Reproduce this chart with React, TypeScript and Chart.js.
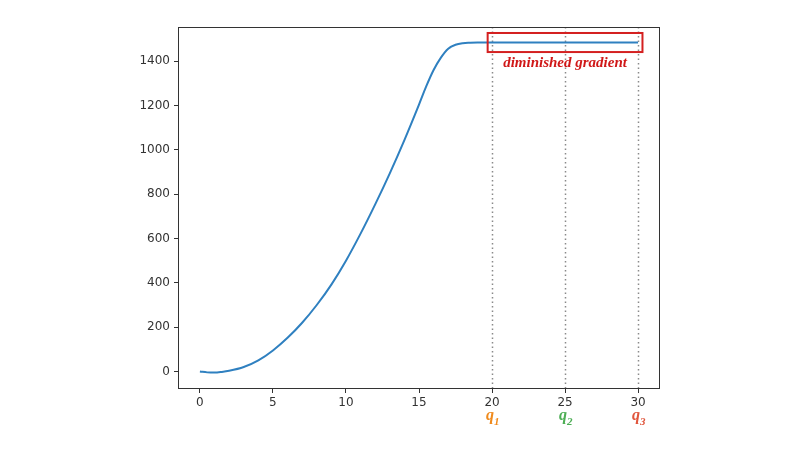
import React, { useEffect, useRef } from "react";
import { Chart, registerables } from "chart.js";

Chart.register(...registerables);

const xValues = [0, 0.5, 1, 1.5, 2, 3, 4, 5, 6, 7, 8, 9, 10, 11, 12, 13, 14, 15, 15.5, 16, 16.5, 17, 17.5, 18, 18.5, 19, 20, 22, 24, 26, 28, 30];
const yValues = [0, -4, -5, -2, 3, 20, 50, 95, 152, 220, 300, 392, 500, 622, 754, 894, 1044, 1204, 1287, 1360, 1416, 1456, 1474, 1481, 1483, 1484, 1484, 1484, 1484, 1484, 1484, 1484];
const xTicks = [0, 5, 10, 15, 20, 25, 30];
const yTicks = [0, 200, 400, 600, 800, 1000, 1200, 1400];
const markerX = [20, 25, 30];
const markerLabels = ["1", "2", "3"];
const markerColors = ["#f08a1c", "#4dae55", "#e0553c"];
const boxRange = { x0: 19.7, x1: 30.3, y0: 1441, y1: 1527 };
const boxLabel = "diminished gradient";

const annotations = {
  id: "annotations",
  beforeDatasetsDraw(chart: any) {
    const { ctx, chartArea, scales } = chart;
    ctx.save();
    ctx.strokeStyle = "#8a8a8a";
    ctx.lineWidth = 1.5;
    ctx.setLineDash([1.5, 3]);
    markerX.forEach((v) => {
      const px = Math.round(scales.x.getPixelForValue(v)) + 0.5;
      ctx.beginPath();
      ctx.moveTo(px, chartArea.top);
      ctx.lineTo(px, chartArea.bottom);
      ctx.stroke();
    });
    ctx.restore();
  },
  afterDraw(chart: any) {
    const { ctx, chartArea, scales } = chart;
    ctx.save();
    ctx.strokeStyle = "#333";
    ctx.lineWidth = 1;
    ctx.strokeRect(Math.round(chartArea.left) + 0.5, Math.round(chartArea.top) + 0.5, Math.round(chartArea.right - chartArea.left) - 1, Math.round(chartArea.bottom - chartArea.top) - 1);
    const bx0 = scales.x.getPixelForValue(boxRange.x0);
    const bx1 = scales.x.getPixelForValue(boxRange.x1);
    const by0 = scales.y.getPixelForValue(boxRange.y1);
    const by1 = scales.y.getPixelForValue(boxRange.y0);
    ctx.strokeStyle = "#d42020";
    ctx.lineWidth = 2;
    ctx.strokeRect(bx0, by0, bx1 - bx0, by1 - by0);
    ctx.fillStyle = "#d01818";
    ctx.font = "bold italic 15px 'Liberation Serif'";
    ctx.textAlign = "center";
    ctx.textBaseline = "middle";
    ctx.fillText(boxLabel, (bx0 + bx1) / 2, by1 + 11);
    markerX.forEach((v, i) => {
      const px = scales.x.getPixelForValue(v);
      ctx.fillStyle = markerColors[i];
      ctx.font = "bold italic 16px 'Liberation Serif'";
      ctx.textAlign = "right";
      ctx.textBaseline = "alphabetic";
      ctx.fillText("q", px + 2, 420);
      ctx.font = "bold italic 11px 'Liberation Serif'";
      ctx.textAlign = "left";
      ctx.fillText(markerLabels[i], px + 2, 425);
    });
    ctx.restore();
  },
};

export default function App() {
  const ref = useRef<HTMLCanvasElement>(null);
  useEffect(() => {
    if (!ref.current) return;
    const chart = new Chart(ref.current, {
      type: "line",
      data: {
        datasets: [
          {
            data: xValues.map((x, i) => ({ x, y: yValues[i] })),
            borderColor: "#2f80c0",
            borderWidth: 2,
            pointRadius: 0,
            cubicInterpolationMode: "monotone",
            fill: false,
          },
        ],
      },
      options: {
        animation: false,
        responsive: false,
        maintainAspectRatio: false,
        layout: { padding: { top: 27, right: 140, left: 0, bottom: 0 } },
        plugins: { legend: { display: false }, tooltip: { enabled: false } },
        scales: {
          x: {
            type: "linear",
            min: -1.5,
            max: 31.5,
            afterBuildTicks: (s: any) => {
              s.ticks = xTicks.map((v) => ({ value: v }));
            },
            afterFit: (s: any) => {
              s.height = 63;
            },
            grid: { drawOnChartArea: false, drawTicks: true, tickLength: 4, color: "#333" },
            border: { display: false },
            ticks: { color: "#333", font: { family: "'DejaVu Sans'", size: 12 }, padding: 3, maxRotation: 0, callback: (v: any) => String(v) },
          },
          y: {
            type: "linear",
            min: -79,
            max: 1554,
            afterBuildTicks: (s: any) => {
              s.ticks = yTicks.map((v) => ({ value: v }));
            },
            afterFit: (s: any) => {
              s.width = 178;
            },
            grid: { drawOnChartArea: false, drawTicks: true, tickLength: 4, color: "#333" },
            border: { display: false },
            ticks: { color: "#333", font: { family: "'DejaVu Sans'", size: 12 }, padding: 4, callback: (v: any) => String(v) },
          },
        },
      },
      plugins: [annotations],
    });
    return () => chart.destroy();
  }, []);
  return (
    <div style={{ position: "fixed", left: 0, top: 0, width: 800, height: 452, background: "#fff" }}>
      <canvas ref={ref} width={800} height={452} style={{ width: 800, height: 452 }} />
    </div>
  );
}
